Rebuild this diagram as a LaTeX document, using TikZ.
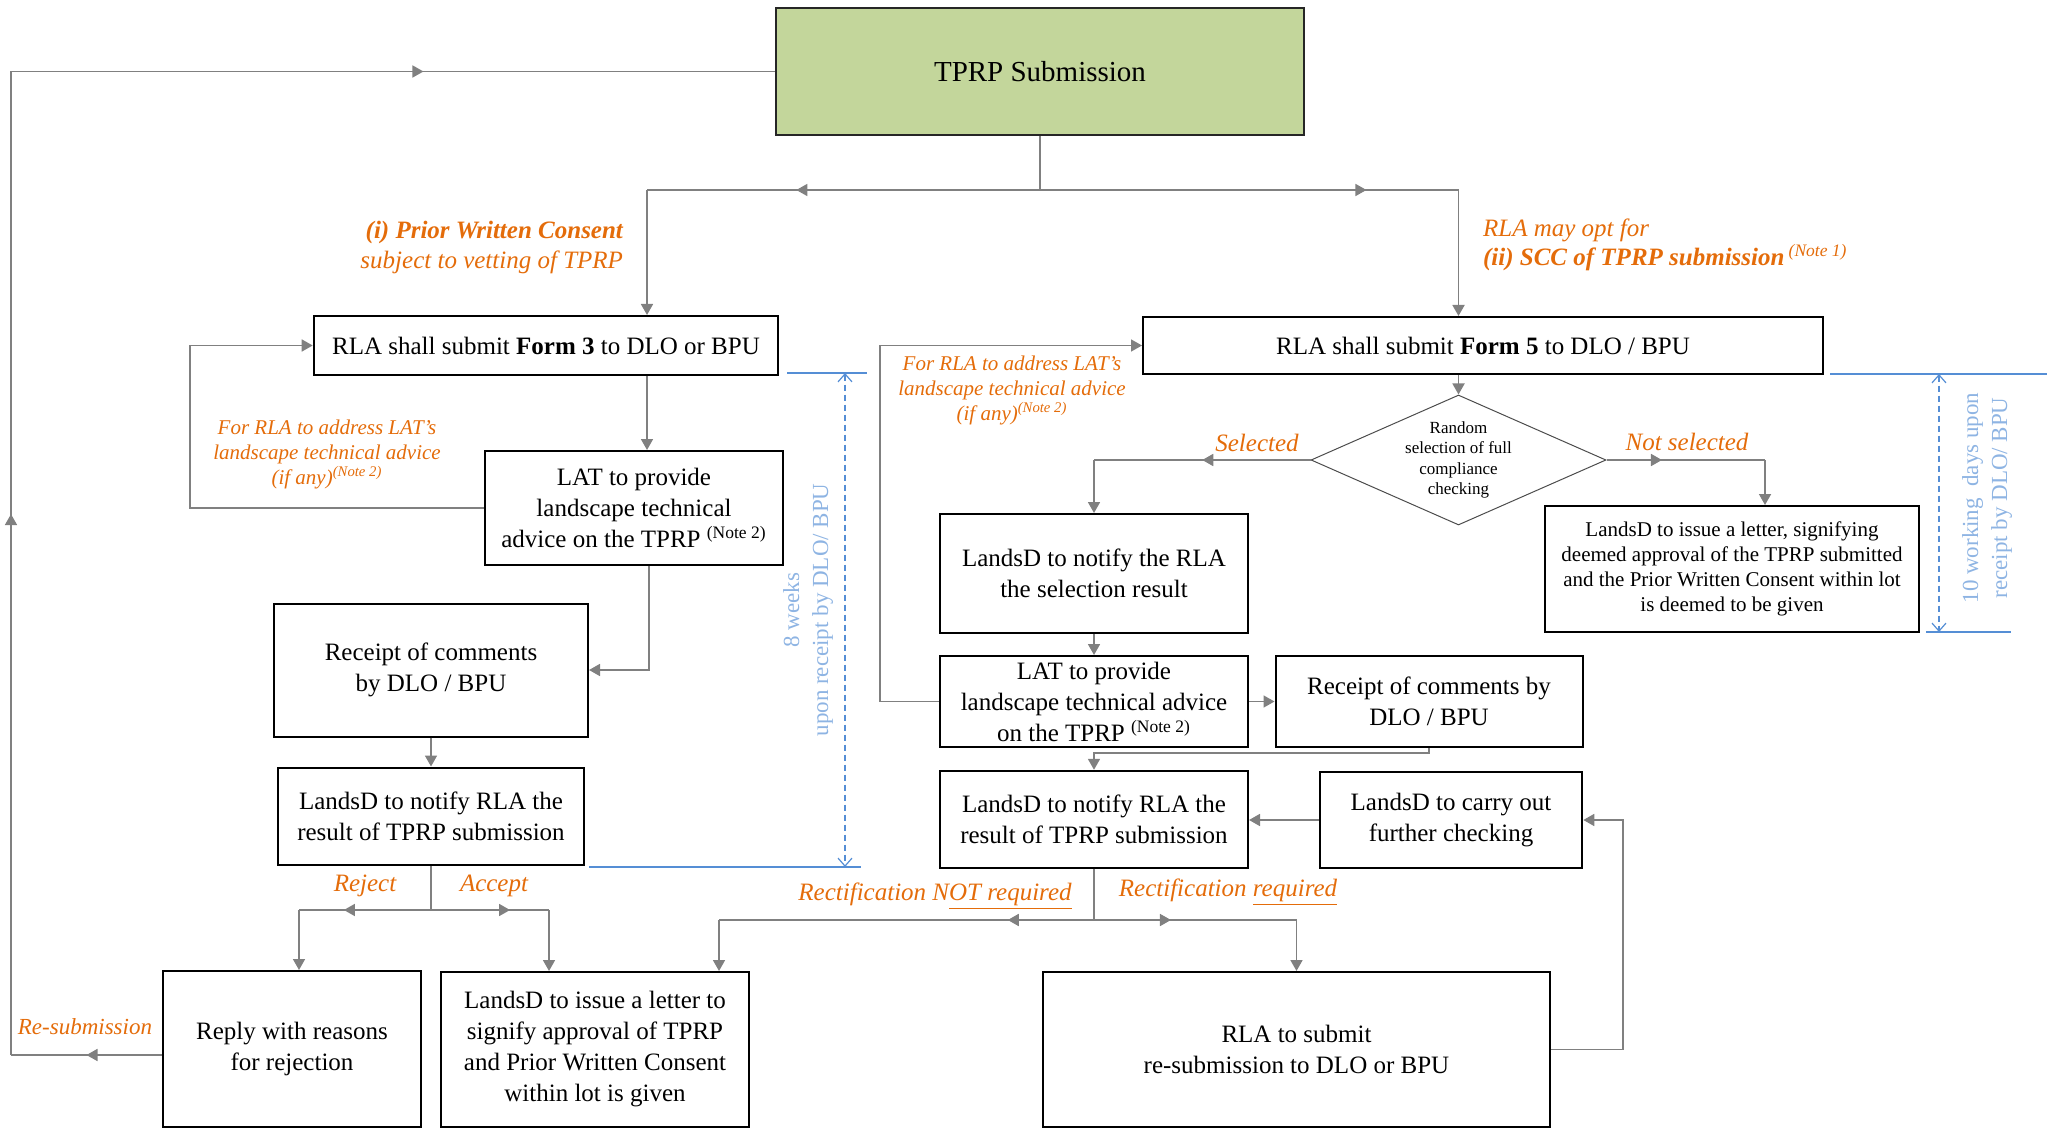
\documentclass[tikz,border=0pt]{standalone}
\usepackage{fontspec}
\setmainfont{Liberation Serif}
\usepackage{xcolor}
\usetikzlibrary{shapes.geometric,arrows.meta,decorations.markings}
\definecolor{lineGrey}{HTML}{808080}
\definecolor{noteOrange}{HTML}{E46C0A}
\definecolor{rangeBlue}{HTML}{558ED5}
\definecolor{rangeText}{HTML}{8EB4E3}
\definecolor{startGreen}{HTML}{C3D69B}

\begin{document}
\begin{tikzpicture}[x=0.5pt,y=-0.5pt,
    >={Triangle[length=5.5pt,width=6pt]},
    box/.style={draw=black, line width=1pt, align=center, inner sep=2pt,
      font=\fontsize{12.5}{15.5}\selectfont},
    smallbox/.style={box, font=\fontsize{10.5}{12.5}\selectfont},
    greyline/.style={draw=lineGrey, line width=0.85pt},
    midarrow/.style={postaction={decorate}, decoration={markings,
      mark=at position #1 with {\arrow[lineGrey]{Triangle[length=5.5pt,width=6pt]}}}},
    midarrow/.default=0.5,
    note/.style={text=noteOrange, font=\itshape\fontsize{12.5}{15}\selectfont},
    smallnote/.style={text=noteOrange, align=center, font=\itshape\fontsize{10.5}{12.5}\selectfont},
    rangeline/.style={draw=rangeBlue, line width=1pt},
    rangearrow/.style={draw=rangeBlue, line width=0.6pt, dash pattern=on 3pt off 2pt,
      {Straight Barb[length=4pt,width=7pt]}-{Straight Barb[length=4pt,width=7pt]}},
    rangelabel/.style={text=rangeText, align=center, rotate=90,
      font=\fontsize{11.5}{14.5}\selectfont}]

     \useasboundingbox (0,0) rectangle (2055,1128);

     % draw boxes
     \node[box, fill=startGreen, draw=black!85, line width=1.2pt, minimum width=264pt, minimum height=63.5pt,
       font=\fontsize{14.5}{17}\selectfont] (tprp) at (1040,71.5) {TPRP Submission};

     \node[box, minimum width=232.3pt, minimum height=29.5pt] (formA) at (546,345.5)
       {RLA shall submit \textbf{Form 3} to DLO or BPU};
     \node[box, minimum width=149pt, minimum height=57pt] (latA) at (634,508)
       {LAT to provide\\landscape technical\\advice on the TPRP \textsuperscript{(Note 2)}};
     \node[box, minimum width=157pt, minimum height=66.5pt] (rcptA) at (431,670)
       {Receipt of comments\\by DLO / BPU};
     \node[box, minimum width=153.4pt, minimum height=48.9pt] (notifyA) at (431,816.4)
       {LandsD to notify RLA the\\result of TPRP submission};
     \node[box, minimum width=129pt, minimum height=78pt] (reply) at (292,1049)
       {Reply with reasons\\for rejection};
     \node[box, minimum width=154pt, minimum height=77.5pt] (letter) at (595,1049.5)
       {LandsD to issue a letter to\\signify approval of TPRP\\and Prior Written Consent\\within lot is given};

     \node[box, minimum width=340pt, minimum height=28.5pt] (formB) at (1483,345.5)
       {RLA shall submit \textbf{Form 5} to DLO / BPU};
     \node[diamond, draw=black!70, line width=0.5pt, aspect=2.27, inner sep=0pt, align=center,
       minimum width=147.5pt, minimum height=65pt, font=\fontsize{8.5}{10.3}\selectfont]
       (select) at (1458.5,460) {Random\\selection of full\\compliance\\checking};
     \node[box, minimum width=154pt, minimum height=59.5pt] (notifySel) at (1094,573.5)
       {LandsD to notify the RLA\\the selection result};
     \node[box, minimum width=154pt, minimum height=45.5pt] (latB) at (1094,701.5)
       {LAT to provide\\landscape technical advice\\on the TPRP \textsuperscript{(Note 2)}};
     \node[box, minimum width=153.5pt, minimum height=45.7pt] (rcptB) at (1429,701.5)
       {Receipt of comments by\\DLO / BPU};
     \node[box, minimum width=131.3pt, minimum height=48pt] (further) at (1451,820)
       {LandsD to carry out\\further checking};
     \node[box, minimum width=154pt, minimum height=48.5pt] (notifyB) at (1094,819.3)
       {LandsD to notify RLA the\\result of TPRP submission};
     \node[smallbox, minimum width=187pt, minimum height=63pt] (deemed) at (1732,569)
       {LandsD to issue a letter, signifying\\deemed approval of the TPRP submitted\\and the Prior Written Consent within lot\\is deemed to be given};
     \node[box, minimum width=253.5pt, minimum height=77.5pt] (resub) at (1296.5,1049.5)
       {RLA to submit\\re-submission to DLO or BPU};

     % draw labels
     \node[note, anchor=east, align=right] (pwcNote) at (630,247)
       {\textbf{(i) Prior Written Consent}\\subject to vetting of TPRP};
     \node[note, anchor=west, align=left, font=\itshape\fontsize{12.5}{14.3}\selectfont] (sccNote) at (1476,245)
       {RLA may opt for\\\textbf{(ii) SCC of TPRP submission}\,\textsuperscript{(Note 1)}};
     \node[smallnote] (adviceA) at (327,454)
       {For RLA to address LAT's\\landscape technical advice\\(if any)\textsuperscript{(Note 2)}};
     \node[smallnote] (adviceB) at (1012,390)
       {For RLA to address LAT's\\landscape technical advice\\(if any)\textsuperscript{(Note 2)}};
     \node[note] (selNote) at (1257,443) {Selected};
     \node[note] (notSelNote) at (1687,442) {Not selected};
     \node[note] (rejectNote) at (365,886) {Reject};
     \node[note] (acceptNote) at (494,886) {Accept};
     \node[note, font=\itshape\fontsize{11.5}{14}\selectfont] (resubNote) at (85,1027) {Re-submission};
     \node[note] (rectNoNote) at (935,896) {Rectification N\underline{OT required}};
     \node[note] (rectYesNote) at (1228,892) {Rectification \underline{required}};

     % draw connectors from the top box
     \coordinate (jTop) at (1040,190);
     \coordinate (jLeft) at (647,190);
     \coordinate (jRight) at (1458.5,190);
     \draw[greyline] (tprp.south) -- (jTop);
     \draw[greyline, midarrow=0.62] (jTop) -- (jLeft);
     \draw[greyline, ->] (jLeft) -- (jLeft |- formA.north);
     \draw[greyline, midarrow=0.78] (jTop) -- (jRight);
     \draw[greyline, ->] (jRight) -- (jRight |- formB.north);

     % draw left column
     \coordinate (loopA) at (190,0);
     \coordinate (latAdrop) at (649,0);
     \draw[greyline, ->] (jLeft |- formA.south) -- (jLeft |- latA.north);
     \draw[greyline, ->] (latA.west) -| (loopA |- formA.west) -- (formA.west);
     \draw[greyline, ->] (latAdrop |- latA.south) |- (rcptA.east);
     \draw[greyline, ->] (rcptA.south) -- (notifyA.north);

     \coordinate (jA) at (431,910);
     \coordinate (jAleft) at (299,910);
     \coordinate (jAright) at (549,910);
     \draw[greyline] (notifyA.south) -- (jA);
     \draw[greyline, midarrow=0.66] (jA) -- (jAleft);
     \draw[greyline, ->] (jAleft) -- (jAleft |- reply.north);
     \draw[greyline, midarrow=0.67] (jA) -- (jAright);
     \draw[greyline, ->] (jAright) -- (jAright |- letter.north);

     % draw re-submission loop
     \coordinate (loopOut) at (11,0);
     \coordinate (replyOut) at ([yshift=-3pt]reply.west);
     \draw[greyline, midarrow] (replyOut) -- (loopOut |- replyOut);
     \draw[greyline, midarrow=0.55] (loopOut |- replyOut) -- (loopOut |- tprp.west);
     \draw[greyline, midarrow=0.54] (loopOut |- tprp.west) -- (tprp.west);

     % draw right column
     \coordinate (selL) at (1094,460);
     \coordinate (selR) at (1765,460);
     \coordinate (loopB) at (880,0);
     \draw[greyline, ->] (jRight |- formB.south) -- (select.north);
     \draw[greyline, midarrow=0.5] (select.west) -- (selL);
     \draw[greyline, ->] (selL) -- (selL |- notifySel.north);
     \draw[greyline, midarrow=0.35] (select.east) -- (selR);
     \draw[greyline, ->] (selR) -- (selR |- deemed.north);
     \draw[greyline, ->] (notifySel.south) -- (latB.north);
     \draw[greyline, ->] (latB.west) -| (loopB |- formB.west) -- (formB.west);
     \draw[greyline, ->] (latB.east) -- (rcptB.west);

     \coordinate (jB) at (1094,753);
     \draw[greyline, ->] (rcptB.south) |- (jB) -- (notifyB.north);
     \draw[greyline, ->] (further.west) -- (further.west -| notifyB.east);

     \coordinate (jC) at (1094,920);
     \coordinate (jCleft) at (719,920);
     \coordinate (jCright) at (1296.5,920);
     \draw[greyline] (notifyB.south) -- (jC);
     \draw[greyline, midarrow=0.23] (jC) -- (jCleft);
     \draw[greyline, ->] (jCleft) -- (jCleft |- letter.north);
     \draw[greyline, midarrow=0.38] (jC) -- (jCright);
     \draw[greyline, ->] (jCright) -- (resub.north);

     \coordinate (loopC) at (1623,0);
     \draw[greyline, ->] (resub.east) -| (loopC |- further.east) -- (further.east);

     % draw time ranges
     \coordinate (wkTopL) at (787,373);
     \coordinate (wkTopR) at (867,373);
     \coordinate (wkBotL) at (589,867);
     \coordinate (wkBotR) at (861,867);
     \coordinate (wkUp) at (845,373);
     \coordinate (wkDown) at (845,867);
     \draw[rangeline] (wkTopL) -- (wkTopR);
     \draw[rangeline] (wkBotL) -- (wkBotR);
     \draw[rangearrow] (wkUp) -- (wkDown);
     \node[rangelabel] (weeksNote) at (808,610) {8 weeks\\upon receipt by DLO/ BPU};

     \coordinate (dyTopL) at (1830,374);
     \coordinate (dyTopR) at (2047,374);
     \coordinate (dyBotL) at (1926,632);
     \coordinate (dyBotR) at (2011,632);
     \coordinate (dyUp) at (1939,374);
     \coordinate (dyDown) at (1939,632);
     \draw[rangeline] (dyTopL) -- (dyTopR);
     \draw[rangeline] (dyBotL) -- (dyBotR);
     \draw[rangearrow] (dyUp) -- (dyDown);
     \node[rangelabel] (daysNote) at (1987,498) {10 working\ \ days upon\\receipt by DLO/ BPU};

\end{tikzpicture}
\end{document}
